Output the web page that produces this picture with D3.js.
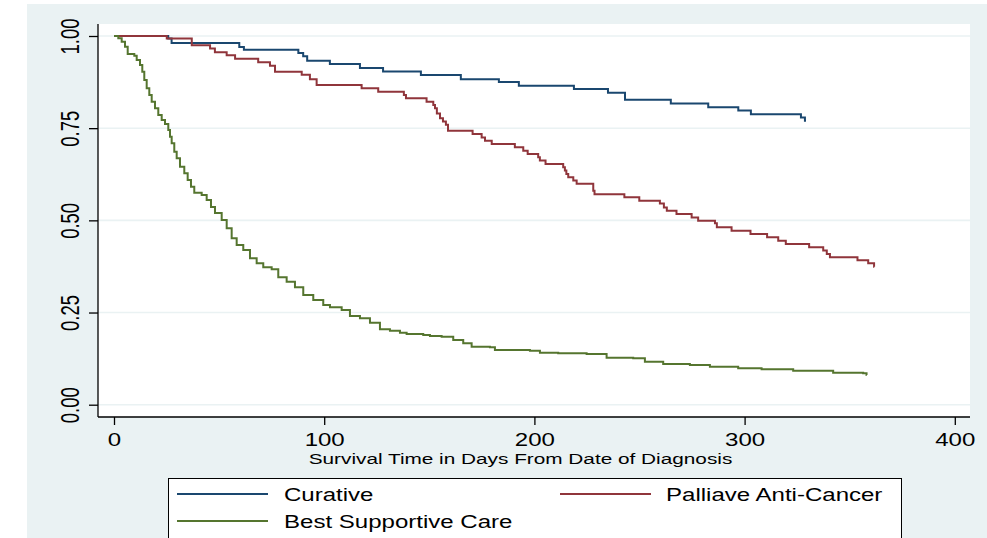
<!DOCTYPE html>
<html>
<head>
<meta charset="utf-8">
<script src="https://cdn.jsdelivr.net/npm/d3@7"></script>
<style>
  body { margin: 0; background: #ffffff; }
  svg { display: block; font-family: "Liberation Sans", Arial, Helvetica, sans-serif; }
</style>
</head>
<body>
<svg id="chart" width="987" height="538"></svg>
<script>
// Kaplan-Meier estimates (days, survival)
var curativeTime = [0, 25.8, 27.4, 59.6, 61.8, 87.7, 90.0, 91.9, 102.7, 117.0, 128.0, 146.0, 165.0, 183.1, 192.6, 218.8, 235.0, 243.1, 264.9, 282.7, 297.0, 303.0, 326.8, 328.7, 329.2];
var curativeSurv = [1, 0.993, 0.981, 0.970, 0.963, 0.954, 0.945, 0.933, 0.924, 0.913, 0.904, 0.894, 0.883, 0.875, 0.865, 0.856, 0.846, 0.827, 0.817, 0.807, 0.798, 0.788, 0.779, 0.770, 0.770];

var palliativeTime = [0, 25.1, 37.0, 45.7, 48.0, 53.6, 57.6, 68.6, 74.2, 76.6, 89.3, 93.2, 96.4, 117.8, 125.7, 137.9, 138.9, 148.7, 151.9, 152.7, 153.6, 155.1, 156.5, 157.9, 158.9, 170.6, 174.9, 176.5, 179.7, 190.7, 194.7, 196.8, 201.8, 202.6, 205.3, 213.7, 214.5, 215.2, 216.1, 218.5, 220.1, 228.0, 228.6, 242.8, 249.9, 259.7, 261.6, 263.0, 267.6, 274.8, 277.9, 285.9, 286.8, 293.8, 302.8, 310.7, 316.0, 319.6, 330.7, 337.4, 339.1, 340.6, 353.7, 358.8, 361.6, 361.7];
var palliativeSurv = [1, 0.993, 0.975, 0.966, 0.956, 0.948, 0.938, 0.929, 0.919, 0.903, 0.895, 0.883, 0.867, 0.858, 0.849, 0.840, 0.831, 0.822, 0.813, 0.804, 0.790, 0.777, 0.768, 0.759, 0.743, 0.734, 0.725, 0.716, 0.707, 0.698, 0.689, 0.680, 0.671, 0.662, 0.653, 0.644, 0.635, 0.626, 0.617, 0.608, 0.599, 0.580, 0.571, 0.5625, 0.553, 0.546, 0.535, 0.526, 0.517, 0.508, 0.499, 0.492, 0.481, 0.472, 0.463, 0.454, 0.445, 0.436, 0.427, 0.418, 0.409, 0.400, 0.392, 0.3835, 0.374, 0.374];

var supportiveTime = [0, 2.05, 3.66, 5.23, 6.52, 9.66, 10.8, 12.37, 13.46, 14.41, 15.55, 16.79, 17.93, 19.5, 21.07, 22.69, 24.26, 25.83, 26.64, 27.44, 28.68, 29.82, 31.39, 33.44, 35.05, 36.62, 38.19, 41.71, 44.09, 46.14, 48.04, 51.23, 53.61, 55.98, 58.36, 61.5, 64.69, 67.87, 71.01, 75.01, 78.15, 82.14, 86.09, 90.04, 94.8, 99.55, 102.74, 108.31, 112.25, 117.01, 121.77, 126.52, 131.28, 136.04, 139.22, 147.12, 150.31, 155.87, 161.39, 166.14, 170.14, 178.84, 181.22, 197.87, 202.63, 211.33, 224.84, 234.35, 247.0, 252.57, 261.27, 273.97, 283.49, 296.95, 308.08, 323.11, 342.13, 356.4, 358.02, 358.1];
var supportiveSurv = [1, 0.9937, 0.9845, 0.971, 0.9512, 0.9466, 0.9349, 0.9213, 0.9032, 0.8807, 0.8581, 0.84, 0.8218, 0.8039, 0.7857, 0.7722, 0.7613, 0.745, 0.7269, 0.709, 0.6862, 0.6683, 0.6455, 0.6276, 0.6094, 0.5913, 0.575, 0.5687, 0.5552, 0.5362, 0.5199, 0.5009, 0.4784, 0.4513, 0.4331, 0.4196, 0.3971, 0.3835, 0.3727, 0.3672, 0.3455, 0.3336, 0.3184, 0.2975, 0.284, 0.2704, 0.2642, 0.2568, 0.2406, 0.2343, 0.2224, 0.2045, 0.2007, 0.1953, 0.1918, 0.189, 0.1863, 0.1844, 0.1755, 0.1665, 0.1573, 0.1557, 0.1484, 0.1465, 0.141, 0.1394, 0.1375, 0.1275, 0.1258, 0.1166, 0.1104, 0.1077, 0.1031, 0.0987, 0.096, 0.0922, 0.0868, 0.0852, 0.0806, 0.0806];

var groupNames = ["Curative", "Palliave Anti-Cancer", "Best Supportive Care"];
var groupColors = ["#1a476f", "#90353b", "#55752f"];
var xTicks = [0, 100, 200, 300, 400];
var yTicks = [0, 0.25, 0.5, 0.75, 1];
var xTitle = "Survival Time in Days From Date of Diagnosis";

var svg = d3.select("#chart");
var bg = "#eaf2f3";

var plot = { left: 98, right: 970, top: 24, bottom: 417 };

// graph region
svg.append("rect")
   .attr("x", 27).attr("y", 4)
   .attr("width", 987 - 27).attr("height", 538 - 4)
   .attr("fill", bg);

// plot region
svg.append("rect")
   .attr("x", plot.left).attr("y", plot.top)
   .attr("width", plot.right - plot.left).attr("height", plot.bottom - plot.top)
   .attr("fill", "#ffffff");

var x = d3.scaleLinear().domain([0, 400]).range([114, 954.8]);
var y = d3.scaleLinear().domain([0, 1]).range([404.7, 36]);

// gridlines
svg.append("g").selectAll("line")
   .data(yTicks)
   .enter().append("line")
   .attr("x1", plot.left).attr("x2", plot.right)
   .attr("y1", function(d) { return y(d); })
   .attr("y2", function(d) { return y(d); })
   .attr("stroke", bg)
   .attr("stroke-width", 1.6);

// curves
var series = [
  { time: curativeTime, surv: curativeSurv },
  { time: palliativeTime, surv: palliativeSurv },
  { time: supportiveTime, surv: supportiveSurv }
];

var line = d3.line()
             .x(function(d) { return x(d[0]); })
             .y(function(d) { return y(d[1]); })
             .curve(d3.curveStepAfter);

series.forEach(function(s, i) {
  var pts = s.time.map(function(t, j) { return [t, s.surv[j]]; });
  svg.append("path")
     .datum(pts)
     .attr("d", line)
     .attr("fill", "none")
     .attr("stroke", groupColors[i])
     .attr("stroke-width", 2)
     .attr("stroke-linejoin", "miter");
});

// y axis
var yAxis = svg.append("g")
   .attr("transform", "translate(" + plot.left + ",0)")
   .call(d3.axisLeft(y).tickValues(yTicks).tickFormat(d3.format(".2f")).tickSize(9).tickPadding(0));
yAxis.select(".domain").remove();
yAxis.selectAll(".tick line").attr("stroke", "#000").attr("stroke-width", 1.3);
yAxis.selectAll(".tick text")
     .attr("x", 0).attr("y", 0).attr("dy", null)
     .attr("text-anchor", "middle")
     .attr("fill", "#000")
     .style("font-size", "18.5px")
     .attr("transform", "translate(-19,0) scale(1.35,1) rotate(-90)");

svg.append("line")
   .attr("x1", plot.left).attr("x2", plot.left)
   .attr("y1", plot.top).attr("y2", plot.bottom)
   .attr("stroke", "#000").attr("stroke-width", 1.3);

// x axis
var xAxis = svg.append("g")
   .attr("transform", "translate(0," + plot.bottom + ")")
   .call(d3.axisBottom(x).tickValues(xTicks).tickSize(8));
xAxis.select(".domain").remove();
xAxis.selectAll(".tick line").attr("stroke", "#000").attr("stroke-width", 1.3);
xAxis.selectAll(".tick text")
     .attr("x", 0).attr("y", 0).attr("dy", null)
     .attr("text-anchor", "middle")
     .attr("fill", "#000")
     .style("font-size", "18.5px")
     .attr("transform", "translate(0,28.5) scale(1.3,1)");

svg.append("line")
   .attr("x1", plot.left).attr("x2", plot.right)
   .attr("y1", plot.bottom).attr("y2", plot.bottom)
   .attr("stroke", "#000").attr("stroke-width", 1.3);

svg.append("text")
   .attr("text-anchor", "middle")
   .attr("transform", "translate(520.5,463.5) scale(1.386,1)")
   .style("font-size", "15px")
   .attr("fill", "#000")
   .text(xTitle);

// legend
var legend = svg.append("g");
legend.append("rect")
      .attr("x", 168.5).attr("y", 478.5)
      .attr("width", 733).attr("height", 80)
      .attr("fill", "#ffffff")
      .attr("stroke", "#000")
      .attr("stroke-width", 1);

var legendPos = [
  { lx: 177, ly: 494, tx: 284, ty: 500.6 },
  { lx: 560, ly: 494, tx: 666, ty: 500.6 },
  { lx: 177, ly: 521, tx: 284, ty: 527.6 }
];

groupNames.forEach(function(name, i) {
  var p = legendPos[i];
  legend.append("line")
        .attr("x1", p.lx).attr("x2", p.lx + 91)
        .attr("y1", p.ly).attr("y2", p.ly)
        .attr("stroke", groupColors[i])
        .attr("stroke-width", 2);
  legend.append("text")
        .attr("transform", "translate(" + p.tx + "," + p.ty + ") scale(1.3,1)")
        .style("font-size", "18.5px")
        .attr("fill", "#000")
        .text(name);
});
</script>
</body>
</html>
